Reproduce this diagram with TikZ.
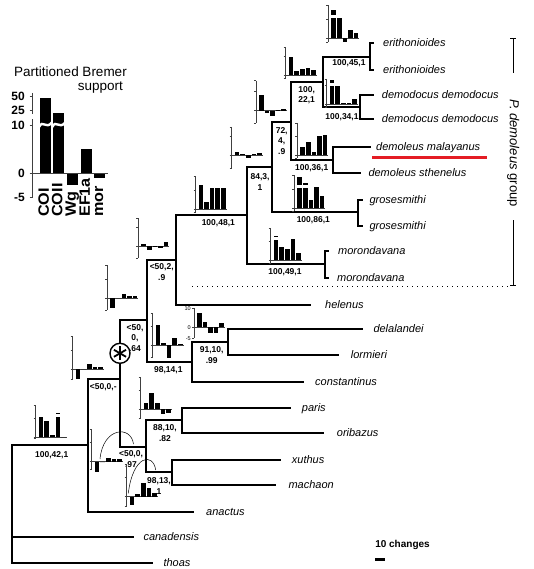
\documentclass[tikz,border=0pt]{standalone}
\usepackage{fontspec}
\setmainfont{Liberation Sans}
\usetikzlibrary{positioning}

\definecolor{markred}{RGB}{228,28,36}

\tikzset{
  branch/.style={line width=2.2pt, line cap=rect},
  taxon/.style={anchor=west, inner sep=0pt, text height=1.5ex, text depth=.25ex,
    font=\fontsize{11}{13}\selectfont\itshape},
  support/.style={inner sep=0pt, align=center, font=\fontsize{8.5}{10.5}\selectfont\bfseries},
  axisline/.style={line width=0.5pt, black!75},
  legnum/.style={anchor=east, inner sep=0pt, font=\fontsize{12}{12}\selectfont\bfseries},
  barlab/.style={anchor=west, rotate=90, inner sep=0pt, text height=0.716em, text depth=0pt,
    font=\fontsize{15}{15}\selectfont\bfseries},
}

% one small partitioned Bremer plot: position, axis above, axis below, bars h/top
\newcommand{\bremerplot}[4]{%
  \begin{scope}[shift={#1}]
    \draw[axisline] (0,-#2) -- (0,#3);
    \draw[axisline] (-2,-#2) -- (0,-#2) (-2,-19) -- (0,-19) (-2,0) -- (0,0) (-2,#3) -- (0,#3);
    \draw[axisline] (0,0) -- (31,0);
    \foreach \h/\t [count=\i] in {#4} {
      \pgfmathsetmacro{\xl}{3+(\i-1)*5.6}
      \pgfmathsetmacro{\yh}{-(\h)}
      \fill (\xl,0) rectangle ++(4.6,\yh);
      \ifdim \t pt>0pt
        \pgfmathsetmacro{\yb}{-(\h)-3}
        \pgfmathsetmacro{\yt}{-(\t)}
        \fill (\xl,\yb) rectangle (\xl+4.6,\yt);
      \fi
    }
  \end{scope}}

\begin{document}
\begin{tikzpicture}[x=1pt, y=-1pt]
  \useasboundingbox (0,0) rectangle (534,569);

  % inner nodes of the tree
  \coordinate (eri) at (370,56.7);
  \coordinate (dem) at (360,107.3);
  \coordinate (n22) at (322.7,81.7);
  \coordinate (dml) at (333,160);
  \coordinate (n72) at (291,121.7);
  \coordinate (gro) at (358.3,211.7);
  \coordinate (n84) at (271.7,166.7);
  \coordinate (mor) at (325,264.3);
  \coordinate (n48) at (247.3,215);
  \coordinate (n2) at (176,260);
  \coordinate (del) at (228.3,341.7);
  \coordinate (n14) at (191.7,361.7);
  \coordinate (n64) at (146.7,320);
  \coordinate (par) at (181.7,420);
  \coordinate (xut) at (172.3,471.7);
  \coordinate (n97) at (145.7,446.7);
  \coordinate (nast) at (120,379.3);
  \coordinate (n42) at (88.3,445);
  \coordinate (root) at (12.3,445);

  % tips
  \coordinate (eri1) at (373,43.3);
  \coordinate (eri2) at (373,70);
  \coordinate (dem1) at (373.3,95);
  \coordinate (dem2) at (373.3,119.3);
  \coordinate (mal) at (370,146.7);
  \coordinate (sth) at (360,173.3);
  \coordinate (gro1) at (361.7,200);
  \coordinate (gro2) at (361.7,226);
  \coordinate (mor1) at (328,250.7);
  \coordinate (mor2) at (328,278);
  \coordinate (hel) at (310,305);
  \coordinate (dela) at (361.7,329.3);
  \coordinate (lorm) at (338.3,355);
  \coordinate (cons) at (303.3,381.7);
  \coordinate (pari) at (290,408.3);
  \coordinate (orib) at (323.3,433.3);
  \coordinate (xuth) at (280,460);
  \coordinate (mach) at (275,485);
  \coordinate (anac) at (193.3,511.7);
  \coordinate (cana) at (133.3,536.7);
  \coordinate (thoa) at (151.7,563.3);

  \foreach \p/\c in {eri/eri1, eri/eri2, dem/dem1, dem/dem2, n22/eri, n22/dem,
      dml/mal, dml/sth, n72/n22, n72/dml, gro/gro1, gro/gro2, n84/n72, n84/gro,
      mor/mor1, mor/mor2, n48/n84, n48/mor, n2/n48, n2/hel, del/dela, del/lorm,
      n14/del, n14/cons, n64/n2, n64/n14, par/pari, par/orib, xut/xuth, xut/mach,
      n97/par, n97/xut, nast/n64, nast/n97, n42/nast, n42/anac,
      root/n42, root/cana, root/thoa}
    \draw[branch] (\p) |- (\c);

  % taxon names
  \node[taxon] (t-eri1) at (383,43.3) {erithonioides};
  \node[taxon] (t-eri2) at (383,70) {erithonioides};
  \node[taxon] (t-dem1) at (381.7,95) {demodocus demodocus};
  \node[taxon] (t-dem2) at (381.7,119.3) {demodocus demodocus};
  \node[taxon] (t-mal) at (376,146.7) {demoleus malayanus};
  \node[taxon] (t-sth) at (368.3,173.3) {demoleus sthenelus};
  \node[taxon] (t-gro1) at (369.3,200) {grosesmithi};
  \node[taxon] (t-gro2) at (369.3,226) {grosesmithi};
  \node[taxon] (t-mor1) at (338,250.7) {morondavana};
  \node[taxon] (t-mor2) at (337,278) {morondavana};
  \node[taxon] (t-hel) at (325,305) {helenus};
  \node[taxon] (t-dela) at (373.3,329.3) {delalandei};
  \node[taxon] (t-lorm) at (350.7,355) {lormieri};
  \node[taxon] (t-cons) at (315,381.7) {constantinus};
  \node[taxon] (t-pari) at (301.7,408.3) {paris};
  \node[taxon] (t-orib) at (336.7,433.3) {oribazus};
  \node[taxon] (t-xuth) at (291.7,460) {xuthus};
  \node[taxon] (t-mach) at (288.3,485) {machaon};
  \node[taxon] (t-anac) at (206,511.7) {anactus};
  \node[taxon] (t-cana) at (143.3,536.7) {canadensis};
  \node[taxon] (t-thoa) at (163.3,563.3) {thoas};

  \draw[line width=3.5pt, markred] (t-mal.south west) ++(-4,6) coordinate (ul1) -- ++(115,0) coordinate (ul2);

  % support values
  \node[support] (s-eri) at (349,63) {100,45,1};
  \node[support] (s-22) at (306.7,95) {100,\\22,1};
  \node[support] (s-dem) at (342,117) {100,34,1};
  \node[support] (s-72) at (281.7,141) {72,\\4,\\.9};
  \node[support] (s-dml) at (311.7,167.7) {100,36,1};
  \node[support] (s-84) at (260,182) {84,3,\\1};
  \node[support] (s-gro) at (313.3,220) {100,86,1};
  \node[support] (s-48) at (218.3,223.3) {100,48,1};
  \node[support] (s-mor) at (285,271.7) {100,49,1};
  \node[support] (s-2) at (161.7,272) {<50,2,\\.9};
  \node[support] (s-64) at (135,338) {<50,\\0,\\.64};
  \node[support] (s-14) at (168.3,370) {98,14,1};
  \node[support] (s-del) at (211.7,355.3) {91,10,\\.99};
  \node[support] (s-ast) at (103.3,387.3) {<50,0,-};
  \node[support] (s-42) at (51.7,455) {100,42,1};
  \node[support] (s-97) at (131,459) {<50,0,\\.97};
  \node[support] (s-par) at (165,433.3) {88,10,\\.82};
  \node[support] (s-xut) at (159,486) {98,13,\\1};

  % partitioned Bremer plots at the nodes
  \bremerplot{(328.3,38.3)}{33}{4}{20/28, 20/0, -4/0, 8/0, 5/0}
  \bremerplot{(285.7,75)}{28}{3}{18/0, 4.3/0, 5.7/0, 6.7/0, 5/0}
  \bremerplot{(326.7,104)}{25}{3}{18/24, 18/0, 1/0, 1/0, 5/0}
  \bremerplot{(297.3,155)}{32}{3}{8.3/0, 13.3/0, 3.3/0, 19/0, 20/0}
  \bremerplot{(294.3,208.3)}{33}{3}{20/31, 20/25, 8.3/0, 21.7/0, 12.3/0}
  \bremerplot{(270.7,260)}{32}{3}{20/24, 13.3/0, 10.7/0, 20.7/0, 6.7/0}
  \bremerplot{(195.5,209.3)}{33}{3}{24/0, 7/0, 21/0, 21/0, 21/0}
  \bremerplot{(231.7,155)}{28}{13}{3.3/0, 1/0, -3.3/0, 1/0, 2.3/0}
  \bremerplot{(256,110.7)}{30}{12.6}{15.7/0, -2.7/0, -5.3/0, 1/0, 1.3/0}
  \bremerplot{(138.3,246)}{28}{12}{2/0, -4/0, -1/0, -2/0, 4/0}
  \bremerplot{(107.3,298.3)}{33}{12}{-10/0, 0/0, 4.3/0, 2.3/0, 2.3/0}
  \bremerplot{(152.5,345)}{32}{12}{20/0, 2.3/0, -13.3/0, 6.7/0, 1/0}
  \bremerplot{(194,327.3)}{19}{11}{14.7/0, 5.7/0, -5.3/0, -6/0, 4/0}
  \bremerplot{(72.7,369.3)}{33}{10}{-10/0, 0/0, 5/0, 2.7/0, 2.7/0}
  \bremerplot{(35.7,437.3)}{32}{1}{20/0, 16.7/0, 2.3/0, 20/24.6, 0/0}
  \bremerplot{(91.7,461.7)}{32}{8}{-10/0, 0/0, 4/0, 2.3/0, 2.3/0}
  \bremerplot{(126.7,496.7)}{32}{10}{-8.3/0, 2.7/0, 13.3/0, 8.3/0, 4/0}
  \bremerplot{(140.7,409)}{32}{9}{5.7/0, 15.7/0, 5.7/0, -5/0, -4.3/0}

  \foreach \v/\yy in {10/308.3, 0/327.3, -5/338.3}
    \node[anchor=east, inner sep=0pt, font=\fontsize{5.5}{6}\selectfont] (m\v) at (191,\yy) {\v};

  % pointers from plots to nodes
  \draw[line width=0.5pt] (100,459) .. controls (103,427) and (131,425) .. (133.5,444);
  \draw[line width=0.5pt] (128.3,493.3) .. controls (133,455) and (153,452) .. (155.7,470);

  % starred node
  \node[circle, draw, fill=white, line width=1.4pt, minimum size=20pt, inner sep=0pt] (star) at (120,353.3) {};
  \foreach \a in {90,150,210,270,330,30}
    \draw[line width=1.8pt] (star.center) -- ++(\a:7);

  % group bracket
  \draw[dash pattern=on 0.8pt off 4.2pt, line width=0.8pt] (192,286.7) -- (510,286.7);
  \draw[line width=0.8pt] (510.3,38.3) -- (516.3,38.3) (513.3,38.3) -- (513.3,73.3);
  \draw[line width=0.8pt] (513.3,220) -- (513.3,285.5) (510.3,285.5) -- (516.3,285.5);
  \node[rotate=-90, inner sep=0pt, font=\fontsize{13}{15}\selectfont] (grp) at (513.3,153) {\textit{P. demoleus} group};

  % scale bar
  \node[inner sep=0pt, font=\fontsize{10}{12}\selectfont\bfseries] (scl) at (402.5,545) {10 changes};
  \draw[line width=2.5pt] (375,559.3) -- (385,559.3);

  % legend
  \node[inner sep=0pt, font=\fontsize{13.5}{15}\selectfont] (legtitle) at (70.5,71.7) {Partitioned Bremer};
  \node[anchor=east, inner sep=0pt, font=\fontsize{13.5}{15}\selectfont] (legsup) at (123,87.7) {support};
  \draw[axisline] (32.7,93) -- (32.7,114) (32.7,119.5) -- (32.7,197);
  \foreach \yy in {96,110,125,173,197}
    \draw[axisline] (29.7,\yy) -- (32.7,\yy);
  \foreach \v/\yy in {50/96, 25/110, 10/125, 0/173, -5/197}
    \node[legnum] (lab\v) at (25,\yy) {\v};
  \fill (40,173) rectangle (50.7,98.3);
  \fill (53.3,173) rectangle (64.3,112.7);
  \fill (66.7,173) rectangle (77.7,185);
  \fill (80.7,173) rectangle (91.7,149.3);
  \fill (94,173) rectangle (105,177.7);
  \draw[white, line width=2.4pt] (39,127) .. controls (43,119) and (46,130) .. (51.7,122.5);
  \draw[white, line width=2.4pt] (52.3,127) .. controls (56,119) and (59,130) .. (65.3,122.5);
  \draw[axisline] (32.7,173) -- (108,173);
  \foreach \n/\xx in {COI/45.3, COII/58.8, Wg/72.2, EF1a/86.2, mor/99.5}
    \node[barlab] (bl-\n) at (\xx,217) {\scalebox{1.08}[1]{\n}};
\end{tikzpicture}
\end{document}
